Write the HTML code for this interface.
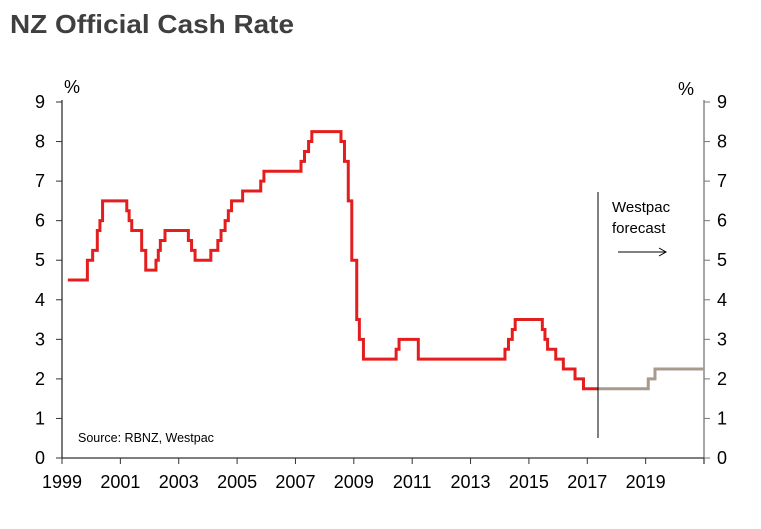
<!DOCTYPE html>
<html><head><meta charset="utf-8"><style>
body{margin:0;background:#fff;width:761px;height:524px;overflow:hidden;font-family:"Liberation Sans",sans-serif}
</style></head><body>
<svg id="chart" width="761" height="524" xmlns="http://www.w3.org/2000/svg" font-family="Liberation Sans, sans-serif">
<text x="10" y="33" font-size="26" font-weight="bold" fill="#3f3f3f" textLength="284" lengthAdjust="spacingAndGlyphs">NZ Official Cash Rate</text>
<text x="64" y="93" font-size="18" fill="#000">%</text>
<text x="678" y="95" font-size="18" fill="#000">%</text>
<g id="axes"></g>
<g id="series"></g>
<line x1="598" y1="192" x2="598" y2="438" stroke="#000" stroke-width="1"/>
<text x="612" y="212" font-size="15" fill="#000">Westpac</text>
<text x="612" y="233" font-size="15" fill="#000">forecast</text>
<g><line x1="618" y1="252" x2="665" y2="252" stroke="#000" stroke-width="1"/><path d="M659,248 L666,252 L659,256" fill="none" stroke="#000" stroke-width="1"/></g>
<text x="78" y="442" font-size="12.5" fill="#000">Source: RBNZ, Westpac</text>
</svg>
<script>
const actualDates=[1999.2,1999.87,2000.05,2000.21,2000.3,2000.39,2001.22,2001.3,2001.39,2001.73,2001.87,2002.22,2002.3,2002.37,2002.53,2003.33,2003.44,2003.56,2004.1,2004.34,2004.45,2004.59,2004.7,2004.81,2005.19,2005.81,2005.92,2007.19,2007.31,2007.45,2007.56,2008.56,2008.68,2008.81,2008.93,2009.1,2009.19,2009.33,2010.45,2010.55,2011.21,2014.18,2014.3,2014.43,2014.53,2015.46,2015.55,2015.64,2015.92,2016.18,2016.58,2016.87];
const actualRates=[4.5,5.0,5.25,5.75,6.0,6.5,6.25,6.0,5.75,5.25,4.75,5.0,5.25,5.5,5.75,5.5,5.25,5.0,5.25,5.5,5.75,6.0,6.25,6.5,6.75,7.0,7.25,7.5,7.75,8.0,8.25,8.0,7.5,6.5,5.0,3.5,3.0,2.5,2.75,3.0,2.5,2.75,3.0,3.25,3.5,3.25,3.0,2.75,2.5,2.25,2.0,1.75];
const actualEnd=2017.38;
const forecastDates=[2017.38,2019.09,2019.32];
const forecastRates=[1.75,2.0,2.25];
const forecastEnd=2021;
const yTicks=[0,1,2,3,4,5,6,7,8,9];
const xTickYears=[1999,2001,2003,2005,2007,2009,2011,2013,2015,2017,2019,2021];
const xLabels=["1999","2001","2003","2005","2007","2009","2011","2013","2015","2017","2019"];

const X0=62,X1=704,Y0=458,Y1=102;
const sx=t=>X0+(t-1999)/(2021-1999)*(X1-X0);
const sy=v=>Y0-v/9*(Y0-Y1);
const NS="http://www.w3.org/2000/svg";
function mk(tag,attrs,parent){const e=document.createElementNS(NS,tag);for(const k in attrs)e.setAttribute(k,attrs[k]);parent.appendChild(e);return e;}
const ax=document.getElementById('axes');
let l=mk('line',{x1:X0,y1:Y1-2,x2:X0,y2:Y0,stroke:'#333','stroke-width':1.3},ax);


l=mk('line',{x1:X1,y1:Y1-2,x2:X1,y2:Y0+6,stroke:'#777','stroke-width':1.3},ax);


l=mk('line',{x1:X0,y1:Y0,x2:X1,y2:Y0,stroke:'#333','stroke-width':1.3},ax);


yTicks.forEach(v=>{
  const y=sy(v);
  mk('line',{x1:X0-6,y1:y,x2:X0,y2:y,stroke:'#333'},ax);
  mk('line',{x1:X1,y1:y,x2:X1+6,y2:y,stroke:'#777'},ax);
  let t=mk('text',{x:X0-17,y:y+6,'font-size':18,'text-anchor':'end'},ax);t.textContent=v;
  
  
  t=mk('text',{x:X1+13,y:y+6,'font-size':18},ax);t.textContent=v;
  
  
});
xTickYears.forEach(yr=>{mk('line',{x1:sx(yr),y1:Y0,x2:sx(yr),y2:Y0+6,stroke:'#333'},ax);});
xLabels.forEach(s=>{
  const t=mk('text',{x:sx(+s),y:488,'font-size':18,'text-anchor':'middle'},ax);t.textContent=s;
  
  
});
function stepPath(d,v,end){
  let p='M'+sx(d[0])+','+sy(v[0]);
  for(let i=1;i<d.length;i++){p+=' H'+sx(d[i])+' V'+sy(v[i]);}
  return p+' H'+sx(end);
}
const sg=document.getElementById('series');
let p=mk('path',{d:stepPath(forecastDates,forecastRates,forecastEnd),fill:'none',stroke:'#a89a8c','stroke-width':3},sg);


p=mk('path',{d:stepPath(actualDates,actualRates,actualEnd),fill:'none',stroke:'#e41e1e','stroke-width':3},sg);


</script>
</body></html>
